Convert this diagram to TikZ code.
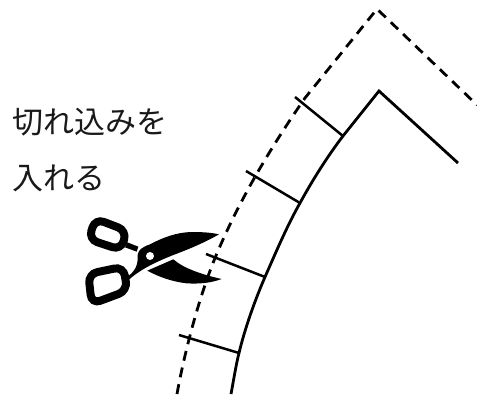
\documentclass[tikz,border=0pt]{standalone}
\usepackage{fontspec}
\newfontfamily\jpfont{Noto Sans CJK JP}
\tikzset{
  seam/.style={line width=2.8pt,black,line join=miter},
  allowance/.style={line width=2.8pt,black,dash pattern=on 10pt off 7pt},
  tick/.style={line width=2.5pt,black},
  lbl/.style={anchor=west,inner sep=0pt,font=\jpfont\fontsize{31pt}{31pt}\selectfont,text=black!90},
  ring/.style={line width=8pt,black,rounded corners=9pt}
}
\begin{document}
\begin{tikzpicture}[x=1pt,y=-1pt]
\useasboundingbox (0,0) rectangle (477,394);
% allowance line
\draw[allowance] (177,394) .. controls (184,355) and (198,300) .. (215,258)
  .. controls (230,222) and (255,170) .. (305,98) -- (377,9) -- (477,105);
% seam line
\draw[seam] (231,394) .. controls (234,378) and (236,365) .. (239,353)
  .. controls (245,328) and (255,300) .. (265,277)
  .. controls (276,252) and (287,226) .. (300,203)
  .. controls (312,181) and (327,157) .. (343,136) -- (379,91) -- (458,163);
% notches
\coordinate (n1a) at (343,136); \coordinate (n1b) at (295,97);
\coordinate (n2a) at (300,203); \coordinate (n2b) at (246,171);
\coordinate (n3a) at (265,277); \coordinate (n3b) at (206,254);
\coordinate (n4a) at (239,353); \coordinate (n4b) at (179,335);
\draw[tick] (n1a) -- (n1b);
\draw[tick] (n2a) -- (n2b);
\draw[tick] (n3a) -- (n3b);
\draw[tick] (n4a) -- (n4b);
% scissors
\begin{scope}[xshift=70pt,yshift=-200pt,x=0.3333pt,y=-0.3333pt]
  \fill[black] (170,232) .. controls (195,215) and (205,195) .. (203,165)
     .. controls (205,150) and (215,142) .. (240,133)
     .. controls (280,112) and (320,97) .. (365,96)
     .. controls (400,96) and (425,98) .. (447,103)
     .. controls (400,130) and (350,150) .. (310,165)
     .. controls (265,183) and (215,205) .. (178,238) -- cycle;
  \fill[black] (232,212) -- (310,178)
     .. controls (340,205) and (400,225) .. (455,237)
     .. controls (420,250) and (385,252) .. (350,250)
     .. controls (305,245) and (265,230) .. (232,212) -- cycle;
  \fill[black] (172,127) -- (205,140) -- (200,155) -- (165,142) -- cycle;
  \fill[white] (240,168) circle (12);
  \draw[ring] (76,56) -- (170,92) -- (153,150) -- (56,118) -- cycle;
  \draw[ring] (55,222) -- (160,200) -- (172,272) -- (65,312) -- cycle;
\end{scope}
% label
\node[lbl] (l1) at (12,122) {切れ込みを};
\node[lbl] (l2) at (12,178) {入れる};
\end{tikzpicture}
\end{document}
